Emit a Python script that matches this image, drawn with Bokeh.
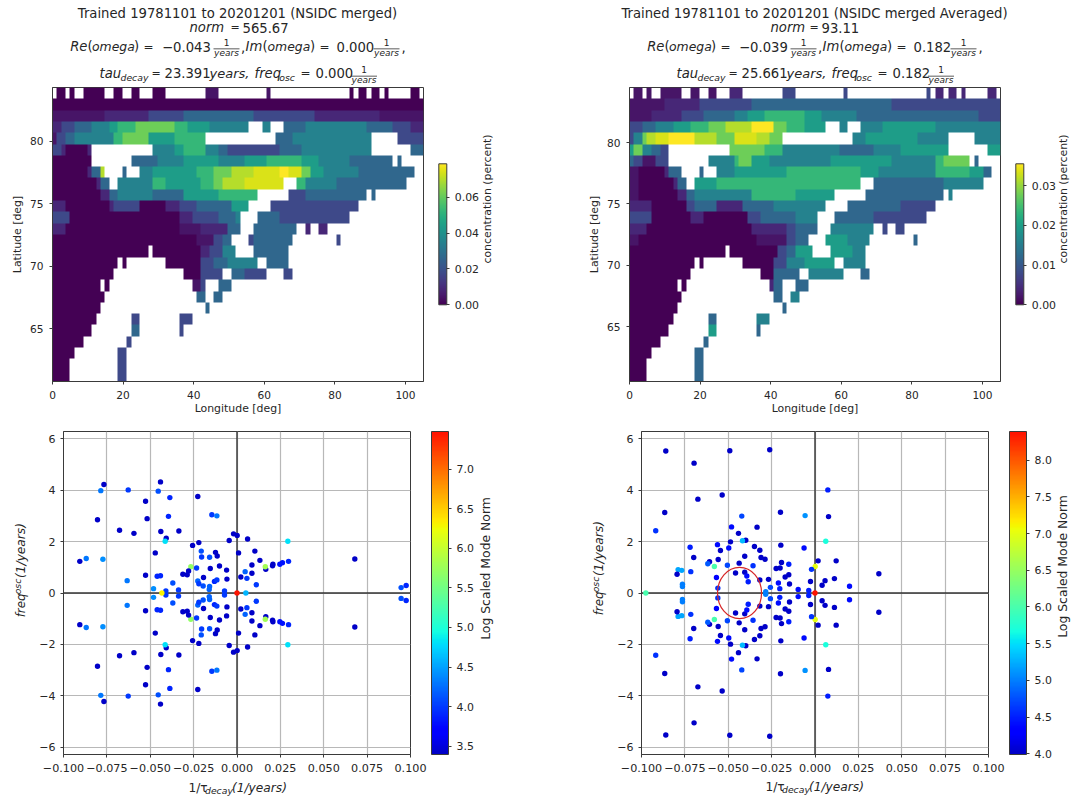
import math
import numpy as np
from bokeh.embed import file_html
from bokeh.layouts import column, row
from bokeh.models import BoxAnnotation, ColorBar, ColumnDataSource, FixedTicker, Label, LinearColorMapper, PrintfTickFormatter, Range1d, Span
from bokeh.palettes import Viridis256
from bokeh.plotting import figure
from bokeh.resources import INLINE

# ---- decay rate (1/years), oscillation frequency (upper half, modes are conjugate pairs), log norm
a_decay = [-.0767,-.0785,-.0627,-.0441,-.0454,-.0387,-.0226,-.0527,-.0804,-.0518,-.0395,-.0145,-.0116,-.0677,-.0594,-.0439,-.0335,-.0408,-.0414,-.0220,-.0020,.0001,-.0045,.0061,-.0256,-.0206,-.0204,-.0158,-.0124,-.0114,-.0471,-.0906,-.0869,-.0773,.0009,-.0266,-.0233,-.0154,-.0101,-.0060,-.0279,-.0287,-.0312,-.0527,-.0460,-.0441,-.0193,.0022,.0057,.0047,-.0633,-.0226,-.0220,-.0195,-.0058,-.0130,-.0116,-.0370,-.0481,-.0410,-.0337,-.0158,-.0160,-.0072,.0103,.0132,.0086,.0207,.0205,.0247,.0262,.0297,.0293,.0166,.0163,.0086,.0111,.0679,.0946,.0975]
a_freq = [4.22,3.98,4.01,4.32,3.96,3.71,3.75,3.57,2.85,2.89,2.98,3.04,3.00,2.44,2.32,2.39,2.41,2.13,2.01,1.96,2.30,2.24,2.04,2.10,1.85,1.63,1.40,1.39,1.58,1.44,1.56,1.23,1.34,1.31,1.56,1.02,.97,.95,1.05,.89,.86,.71,.73,.69,.65,.67,.60,.62,.57,.83,.48,.47,.36,.27,.54,.45,.51,.39,.17,.08,.12,.25,.14,.08,1.63,1.27,1.09,1.12,1.06,1.12,1.18,1.23,2.01,.92,1.02,.77,.32,1.32,.21,.29]
a_norm = [3.42,4.3,4.0,3.42,4.1,3.9,3.42,3.42,3.42,3.42,3.9,4.0,4.3,3.42,3.42,3.42,3.42,3.42,4.8,3.42,3.42,3.42,3.42,3.42,3.42,4.1,4.0,4.1,3.42,3.42,3.42,3.42,4.3,4.4,3.42,5.7,4.0,3.42,3.42,3.42,3.42,3.42,3.42,3.42,3.9,3.9,3.42,3.42,4.0,4.2,4.3,4.2,4.0,4.1,3.42,3.9,4.0,4.1,4.4,4.0,4.0,4.2,4.2,4.0,3.42,3.42,3.42,3.42,3.42,3.8,3.8,3.9,4.8,3.42,5.8,3.42,4.0,3.42,4.1,3.9]
a_axis_decay = [-.0433, 0.0, .0051]
a_axis_norm = [6.3, 7.45, 4.6]

b_decay = [-.0860,-.0491,-.0261,-.0697,-.0675,-.0535,-.0866,-.0199,-.0057,.0074,.0078,-.0422,-.0918,-.0481,-.0441,-.0334,-.0487,-.0399,-.0418,-.0720,-.0562,-.0545,-.0497,-.0349,-.0318,-.0197,-.0063,.0062,-.0699,-.0608,-.0618,-.0558,-.0405,-.0311,-.0288,-.0193,-.0151,-.0505,-.0580,-.0437,-.0357,-.0224,-.0201,.0018,.0001,-.0020,-.0789,-.0768,-.0795,-.0716,-.0458,-.0405,-.0393,-.0385,-.0568,-.0318,-.0268,-.0172,-.0151,-.0211,-.0147,-.0026,.0041,.0058,-.0764,-.0764,-.0560,-.0257,-.0203,-.0097,-.0036,-.0284,.0122,.0112,.0199,.0368]
b_freq = [5.52,5.53,5.57,5.05,3.65,3.81,3.13,3.14,3.01,4.01,2.97,2.99,2.42,2.57,2.32,2.56,1.99,2.05,2.03,1.78,1.88,1.65,1.75,1.81,1.66,1.86,1.75,2.01,1.38,1.22,1.14,1.30,1.43,1.38,1.31,1.19,1.12,1.08,1.03,1.16,1.06,.95,.97,1.25,1.03,.92,.91,.88,.73,.83,.78,.81,.66,.44,.60,.51,.53,.62,.71,.39,.35,.45,.30,.48,.34,.25,.19,.22,.17,.14,.10,.05,1.25,.56,.26,.75]
b_norm = [4.02,4.02,4.02,4.02,4.02,4.02,4.02,4.02,5.1,4.5,4.02,4.7,4.6,4.4,4.02,4.02,4.02,4.02,5.3,4.5,4.4,4.02,4.4,4.02,4.02,4.02,4.4,5.7,4.02,4.02,4.8,4.02,4.02,4.02,4.02,4.02,4.5,4.7,6.0,4.02,4.6,4.02,4.02,4.02,7.0,4.6,5.2,5.2,4.02,4.6,4.02,4.02,4.4,4.5,4.3,4.02,4.02,4.02,4.02,4.4,4.02,4.02,4.02,4.02,5.0,5.0,4.6,4.7,4.5,4.4,4.5,5.0,4.02,4.02,4.4,4.02]
b_axis_decay = [-.0975, 0.0]
b_axis_norm = [6.0, 8.39]
b_circle = (-.0435, .0127, 1.0)

x_ticks = [-.1,-.075,-.05,-.025,0,.025,.05,.075,.1]
y_ticks = [-6,-4,-2,0,2,4,6]
lon_ticks = [0,20,40,60,80,100]
lat_ticks = [65,70,75,80]

# ---- concentration maps: row tokens are "level@end column", top row first ('.' = no data)
map_a = [
".@1 0@3 .@4 0@5 .@7 0@12 .@14 0@16 .@18 0@20 .@23 0@26 .@35 a@38 .@49 a@50 .@68 0@69 .@70 0@72 .@73 0@75 .@76 0@77 .@82 0@84 .@85",
"0@85",
"a@12 1@22 2@30 3@46 2@60 1@75 a@85",
"1@2 2@5 3@9 4@13 5@15 6@19 7@28 6@31 5@36 4@45 .@48 4@50 .@53 3@58 4@72 3@78 2@82 1@85",
"a@1 2@3 3@5 4@14 6@16 7@22 5@28 6@35 .@51 3@55 4@73 .@79 2@85",
"2@2 1@3 0@8 1@9 .@23 4@28 5@30 6@35 4@38 3@40 2@52 3@57 4@73 .@82 3@85",
"0@9 .@18 3@24 4@30 5@38 4@44 5@49 6@57 5@61 4@68 3@78 .@79 3@80 .@85",
"0@8 1@9 3@11 8@12 .@16 3@17 .@20 4@23 5@33 6@37 7@41 8@46 i@52 9@54 i@57 7@59 5@62 4@70 3@83 .@85",
"0@10 1@11 3@13 .@15 4@23 6@26 5@34 6@37 7@39 8@44 i@53 .@56 6@58 4@65 3@81 .@85",
"0@11 1@13 3@15 4@23 3@30 5@38 6@47 .@54 2@58 3@72 .@73 3@74 .@85",
"1@3 0@13 1@14 2@20 0@26 1@29 2@33 3@41 5@45 .@50 2@70 .@85",
"2@4 0@29 1@32 2@38 3@42 4@43 .@47 3@52 2@68 .@85",
"1@3 0@29 a@34 1@40 3@43 .@46 3@56 .@58 1@59 .@61 1@63 .@85",
"0@33 a@37 2@39 3@41 .@45 2@46 3@55 .@65 2@66 .@85",
"0@22 .@23 0@34 1@36 2@39 4@42 .@46 3@54 .@85",
"0@15 .@16 0@17 .@26 0@34 2@37 3@40 4@47 .@49 3@54 .@85",
"0@14 .@30 0@34 2@39 .@41 3@44 2@49 .@53 2@55 .@85",
"0@11 .@12 0@13 .@32 a@34 2@35 .@38 3@41 .@85",
"0@12 .@33 3@35 .@37 3@39 .@85",
"0@11 .@35 3@36 .@85",
"0@10 .@18 2@20 .@29 2@32 .@85",
"0@9 .@18 3@20 .@29 2@30 .@85",
"0@7 .@17 2@18 .@85",
"0@5 .@15 2@17 .@85",
"0@4 .@15 2@17 .@85",
"0@4 .@15 2@17 .@85",
]
map_b = [
".@1 a@3 .@4 a@5 .@7 a@12 .@14 a@16 .@18 a@20 .@23 1@26 .@35 2@38 .@49 2@50 .@68 2@69 .@70 1@72 .@73 1@75 .@76 1@77 .@82 1@84 .@85",
"a@8 1@16 2@28 3@60 2@85",
"a@5 1@12 2@17 3@24 4@27 5@31 6@40 5@44 4@52 3@80 2@85",
"2@3 3@6 4@10 5@14 6@18 7@22 8@28 9@33 7@36 6@40 5@45 .@48 4@50 .@53 4@58 5@70 4@85",
"2@1 4@3 7@4 8@6 i@9 9@15 8@20 7@24 i@29 8@32 7@35 .@51 4@54 5@66 4@73 .@79 4@85",
"5@1 7@3 4@5 3@7 2@9 .@23 7@31 6@35 4@48 3@56 4@62 5@73 .@82 5@85",
"3@1 2@3 a@6 2@9 .@18 4@24 6@25 7@28 5@32 4@46 5@60 4@70 6@72 7@78 .@79 3@80 .@85",
"a@2 0@8 1@9 3@12 .@16 3@17 .@20 4@24 5@36 6@53 5@57 4@70 6@78 5@81 3@83 .@85",
"a@2 0@10 1@11 3@13 .@15 5@20 6@53 .@56 3@72 4@81 .@85",
"a@2 0@11 1@13 3@15 4@28 6@38 5@47 .@54 3@72 .@73 4@74 .@85",
"1@5 0@13 2@15 3@20 1@26 3@33 4@45 .@50 3@62 2@70 .@85",
"2@5 0@14 1@17 0@27 2@30 3@38 4@43 .@47 3@56 2@68 .@85",
"1@4 0@28 1@36 2@38 3@43 .@46 4@56 .@58 2@59 .@61 2@63 .@85",
"a@2 0@29 a@36 2@38 3@41 .@45 5@50 4@55 .@65 3@66 .@85",
"0@22 .@23 0@34 2@36 3@38 5@42 .@46 5@51 4@54 .@85",
"0@15 .@16 0@17 .@26 0@33 2@36 4@40 5@47 .@49 4@54 .@85",
"0@14 .@30 0@33 3@39 .@41 4@49 .@53 3@55 .@85",
"0@11 .@12 0@13 .@32 1@33 3@35 .@38 3@41 .@85",
"0@12 .@33 3@35 .@37 4@39 .@85",
"0@11 .@35 3@36 .@85",
"0@10 .@18 3@20 .@29 4@32 .@85",
"0@9 .@18 5@20 .@29 3@30 .@85",
"0@7 .@17 3@18 .@85",
"0@5 .@15 3@17 .@85",
"0@4 .@15 3@17 .@85",
"0@4 .@15 3@17 .@85",
]
LEVELS = "0a1b2c3d4e5f6g7h8i9"
FONT = "DejaVu Sans"
INK = "#262626"
EDGE = "#3a3a3a"


def decode(rows, vmax):
    out = np.full((len(rows), 85), np.nan)
    for r, text in enumerate(rows):
        start = 0
        for tok in text.split():
            ch, end = tok.split("@")
            end = int(end)
            if ch != ".":
                out[r, start:end] = LEVELS.index(ch) / 18 * vmax
            start = end
    return out[::-1]


def jet():
    t = np.linspace(.06, .89, 256)
    r = np.interp(t, [0, .35, .66, .89, 1], [0, 0, 1, 1, .5])
    g = np.interp(t, [0, .125, .375, .64, .91, 1], [0, 0, 1, 1, 0, 0])
    b = np.interp(t, [0, .11, .34, .65, 1], [.5, 1, 1, 0, 0])
    return ["#%02x%02x%02x" % (int(a * 255), int(c * 255), int(d * 255)) for a, c, d in zip(r, g, b)]


def strip(w, h):
    p = figure(width=w, height=h, min_border=0, min_border_left=0, min_border_right=0, min_border_top=0,
               min_border_bottom=0, x_range=Range1d(0, 1), y_range=Range1d(0, 1), x_axis_location=None,
               y_axis_location=None, toolbar_location=None, output_backend="svg", outline_line_color=None,
               background_fill_color=None, border_fill_color=None)
    p.grid.visible = False
    return p


def put(p, fr, X, Y, text, size=13.2, italic=False, align="left", angle=0.0):
    p.add_layout(Label(x=X - fr[0], y=fr[1] - Y, x_units="screen", y_units="screen", text=text,
                       text_font=FONT, text_font_size=f"{size}px", text_color=INK,
                       text_font_style="italic" if italic else "normal", text_align=align,
                       text_baseline="middle", angle=angle, border_line_color=None,
                       background_fill_color=None))


def frac(p, fr, cx, y1, ybar, y2):
    put(p, fr, cx, y1, "1", 9, False, "center")
    p.add_layout(BoxAnnotation(left=cx - 13 - fr[0], right=cx + 13 - fr[0], top=fr[1] - ybar + .4,
                               bottom=fr[1] - ybar - .4, left_units="screen", right_units="screen",
                               top_units="screen", bottom_units="screen", fill_color=INK, fill_alpha=1,
                               line_color=None))
    put(p, fr, cx, y2, "years", 9, True, "center")


def titles(p, fr, dx, head, norm, norm_x, eq_x, num_x, re, im, tau):
    put(p, fr, 237 + dx, 12.5, head, 13.2, False, "center")
    put(p, fr, norm_x, 27, "norm", 13.2, True)
    put(p, fr, eq_x, 27, "=", 11)
    put(p, fr, num_x, 27, norm)
    y = 46
    for X, s, it, sz in [(69.7, "Re", True, 13.2), (87, "(", False, 13.2), (91.5, "omega", True, 12.4), (133.5, ")", False, 13.2),
                         (143, "=", False, 12), (161.5, re, False, 13.2), (240.5, ",", False, 13.2), (245, "Im", True, 13.2),
                         (262, "(", False, 13.2), (267, "omega", True, 12.4), (309.5, ")", False, 13.2), (319, "=", False, 12),
                         (336, im, False, 13.2), (401, ",", False, 13.2)]:
        put(p, fr, X + dx, y, s, sz, it)
    frac(p, fr, 226 + dx, 41.7, 48.3, 52)
    frac(p, fr, 386 + dx, 41.7, 48.3, 52)
    y = 72.7
    for X, s, it, sz in [(99, "tau", True, 13.2), (151, "=", False, 11), (164, tau, False, 13.2), (209, "years,", True, 13),
                         (254, "freq", True, 13.2), (300, "=", False, 12), (315, im, False, 13.2)]:
        put(p, fr, X + dx, y, s, sz, it)
    put(p, fr, 120 + dx, 76.5, "decay", 9.3, True)
    put(p, fr, 278.7 + dx, 76.5, "osc", 9.3, True)
    frac(p, fr, 363.5 + dx, 69, 75.7, 79)


def style(p):
    p.outline_line_color = EDGE
    p.outline_line_width = 1
    p.background_fill_color = "white"
    p.border_fill_color = None
    for ax in (p.xaxis[0], p.yaxis[0]):
        ax.axis_line_color = EDGE
        ax.major_tick_line_color = EDGE
        ax.major_tick_out = 3
        ax.major_tick_in = 0
        ax.minor_tick_out = 0
        ax.minor_tick_in = 0
        ax.major_label_text_font = FONT
        ax.major_label_text_font_size = "10.6px"
        ax.major_label_text_color = INK
        ax.major_label_standoff = 6
        ax.axis_label_text_font = FONT
        ax.axis_label_text_font_size = "10.9px"
        ax.axis_label_text_font_style = "normal"
        ax.axis_label_text_color = INK


def colorbar(p, mapper, ticks, fmt, x, y, w, h):
    cb = ColorBar(color_mapper=mapper, ticker=FixedTicker(ticks=ticks), formatter=PrintfTickFormatter(format=fmt),
                  location=(x, y), width=w, height=h, padding=0, margin=0, major_tick_in=0, major_tick_out=3,
                  major_tick_line_color=EDGE, minor_tick_out=0, bar_line_color=EDGE, border_line_color=None,
                  background_fill_color=None, major_label_text_font=FONT, major_label_text_font_size="10.9px",
                  major_label_text_color=INK, label_standoff=5)
    p.add_layout(cb)


def heat(rows, vmax, xend, y0, y1, left, right, ticks, fmt, cb_x):
    p = figure(width=left + 371 + right, height=328, frame_width=371, frame_height=294, min_border_left=left,
               min_border_right=right, min_border_top=1, min_border_bottom=33, x_range=Range1d(0, xend),
               y_range=Range1d(y0, y1), toolbar_location=None, output_backend="svg",
               x_axis_label="Longitude [deg]", y_axis_label="Latitude [deg]")
    mapper = LinearColorMapper(palette=Viridis256, low=0, high=vmax, nan_color="rgba(0,0,0,0)")
    p.image(image=[decode(rows, vmax)], x=0, y=y0, dw=xend, dh=y1 - y0, color_mapper=mapper)
    p.grid.visible = False
    style(p)
    p.xaxis[0].ticker = FixedTicker(ticks=lon_ticks)
    p.yaxis[0].ticker = FixedTicker(ticks=lat_ticks)
    p.xaxis[0].axis_label_standoff = 0
    p.yaxis[0].axis_label_standoff = 3
    colorbar(p, mapper, ticks, fmt, cb_x, 76.7, 8, 141)
    return p


def modes(decay, freq, norm, axis_decay, axis_norm, low, high, left, right, top, bottom, ticks, cb_x, circle=None):
    p = figure(width=left + 347 + right, height=359, frame_width=347, frame_height=323, min_border_left=left,
               min_border_right=right, min_border_top=top, min_border_bottom=bottom, x_range=Range1d(-.1, .1),
               y_range=Range1d(-6.28, 6.28), toolbar_location=None, output_backend="svg")
    style(p)
    p.xaxis[0].major_label_text_font_size = "11.2px"
    p.yaxis[0].major_label_text_font_size = "11px"
    p.xaxis[0].ticker = FixedTicker(ticks=x_ticks)
    p.yaxis[0].ticker = FixedTicker(ticks=y_ticks)
    p.yaxis[0].major_label_standoff = 5
    p.xaxis[0].major_label_overrides = {t: f"{t:.3f}".replace("-", "\u2212") for t in x_ticks}
    p.yaxis[0].major_label_overrides = {t: str(t).replace("-", "\u2212") for t in y_ticks}
    for g in (p.xgrid[0], p.ygrid[0]):
        g.grid_line_color = "#b8b8b8"
        g.grid_line_width = 1.2
    p.xgrid[0].ticker = FixedTicker(ticks=x_ticks)
    p.ygrid[0].ticker = FixedTicker(ticks=y_ticks)
    for dim in ("width", "height"):
        p.add_layout(Span(location=0, dimension=dim, line_color="#333333", line_width=1.4, level="underlay"))
    mapper = LinearColorMapper(palette=jet(), low=low, high=high)
    xs = decay + decay + axis_decay
    ys = freq + [-f for f in freq] + [0.0] * len(axis_decay)
    cs = norm + norm + axis_norm
    src = ColumnDataSource(dict(x=xs, y=ys, c=cs))
    p.scatter("x", "y", source=src, size=5.4, line_color=None, fill_color={"field": "c", "transform": mapper})
    if circle:
        p.ellipse(x=circle[0], y=0, width=2 * circle[1], height=2 * circle[2], fill_color=None,
                  line_color="#d62728", line_width=1.2)
    colorbar(p, mapper, ticks, "%.1f", cb_x, 0, 17, 323)
    return p


pa = heat(map_a, .0786, 105.1, 60.78, 84.3, 52, 58, [0, .02, .04, .06], "%.2f", 386.3)
pb = heat(map_b, .0355, 105.1, 60.52, 84.5, 89, 56, [0, .01, .02, .03], "%.2f", 386.3)
pc = modes(a_decay, a_freq, a_norm, a_axis_decay, a_axis_norm, 3.395, 7.476, 31, 66, 14, 22,
           [3.5, 4, 4.5, 5, 5.5, 6, 6.5, 7], 368)
pd = modes(b_decay, b_freq, b_norm, b_axis_decay, b_axis_norm, 3.99, 8.39, 31, 64, 12, 24,
           [4, 4.5, 5, 5.5, 6, 6.5, 7, 7.5, 8], 368, b_circle)

top_a, top_b = strip(540, 86), strip(537, 86)
titles(top_a, (0, 86), 0, "Trained 19781101 to 20201201 (NSIDC merged)", "565.67", 189, 230, 242,
       "\u22120.043", "0.000", "23.391")
titles(top_b, (540, 86), 577, "Trained 19781101 to 20201201 (NSIDC merged Averaged)", "93.11", 770, 809, 821,
       "\u22120.039", "0.182", "25.661")

ra, rb = strip(59, 331), strip(21, 331)
put(ra, (481, 417), 487, 234.5, "concentration (percent)", 10.9, False, "center", math.pi / 2)
put(rb, (1056, 417), 1063, 234.5, "concentration (percent)", 10.9, False, "center", math.pi / 2)
rc, rd = strip(64, 359), strip(25, 359)
put(rc, (476, 776), 485, 592, "Log Scaled Mode Norm", 12.4, False, "center", math.pi / 2)
put(rd, (1052, 776), 1062, 590, "Log Scaled Mode Norm", 12.4, False, "center", math.pi / 2)

side_a, side_b = strip(32, 359), strip(70, 359)
bot_a, bot_b = strip(540, 23), strip(537, 23)
for p, fr, yl, top in [(side_a, (0, 776), 20, 547), (side_b, (540, 776), 598, 545)]:
    put(p, fr, yl, top + 82, "freq", 11.8, True, "center", math.pi / 2)
    put(p, fr, yl - 3, top + 63, "osc", 9.3, True, "center", math.pi / 2)
    put(p, fr, yl, top + 27, "(1/years)", 12.2, True, "center", math.pi / 2)
for p, fr, X0, yc in [(bot_a, (0, 799), 188, 787), (bot_b, (540, 799), 765, 786)]:
    put(p, fr, X0, yc, "1/\u03c4", 12.2, False)
    put(p, fr, X0 + 16.5, yc + 3, "decay", 9.3, True)
    put(p, fr, X0 + 43.5, yc, "(1/years)", 12.2, True)

page = column(row(top_a, top_b, spacing=0), row(pa, ra, pb, rb, spacing=0), row(side_a, pc, rc, side_b, pd, rd, spacing=0),
              row(bot_a, bot_b, spacing=0), spacing=0)
open("out.html", "w").write(file_html(page, INLINE))
